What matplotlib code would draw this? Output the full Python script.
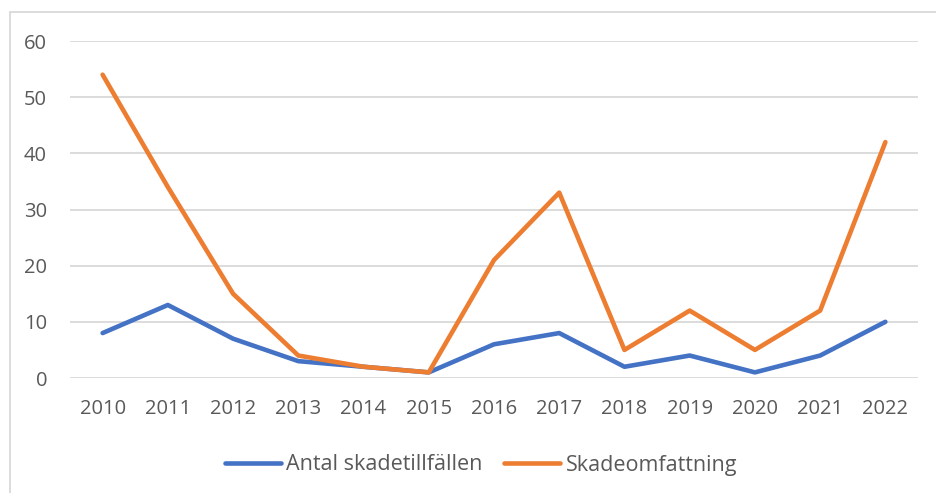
import matplotlib.pyplot as plt
from matplotlib.patches import Rectangle

years = ["2010", "2011", "2012", "2013", "2014", "2015", "2016",
         "2017", "2018", "2019", "2020", "2021", "2022"]
antal = [8, 13, 7, 3, 2, 1, 6, 8, 2, 4, 1, 4, 10]
omfattning = [54, 34, 15, 4, 2, 1, 21, 33, 5, 12, 5, 12, 42]

BLUE = "#4472C4"
ORANGE = "#ED7D31"
GRID = "#D9D9D9"
TEXT = "#595959"

plt.rcParams["font.family"] = ["Open Sans", "DejaVu Sans"]

fig = plt.figure(figsize=(9.36, 4.93), dpi=100)
ax = fig.add_axes([70 / 936, 1 - 378 / 493, 848 / 936, 337 / 493])

x = range(len(years))
ax.plot(x, antal, color=BLUE, lw=3.3, solid_capstyle="round",
        solid_joinstyle="round", label="Antal skadetillfällen", zorder=3)
ax.plot(x, omfattning, color=ORANGE, lw=3.3, solid_capstyle="round",
        solid_joinstyle="round", label="Skadeomfattning", zorder=3)

ax.set_xlim(-0.5, len(years) - 0.5)
ax.set_ylim(0, 60)
ax.set_yticks(range(0, 61, 10))
ax.set_xticks(list(x))
ax.set_xticklabels(years)
ax.grid(axis="y", color=GRID, lw=1.3)
ax.set_axisbelow(True)
for s in ax.spines.values():
    s.set_visible(False)
ax.tick_params(length=0, colors=TEXT, labelsize=14.5)
ax.tick_params(axis="x", pad=15)
ax.tick_params(axis="y", pad=16.5)

leg = fig.legend(loc="center", bbox_to_anchor=(481 / 936, 1 - 465 / 493),
                 ncol=2, frameon=False, fontsize=15.5, handlelength=2.6,
                 handletextpad=0.25, columnspacing=1.0)
for t in leg.get_texts():
    t.set_color(TEXT)

# outer chart frame (cut off at right and bottom in the original)
fig.patches.append(Rectangle((10 / 936, -0.1), 1.2, 1.1 - 12 / 493,
                             transform=fig.transFigure, fill=False,
                             edgecolor=GRID, lw=1.3))

fig.savefig("out.png", dpi=100)
